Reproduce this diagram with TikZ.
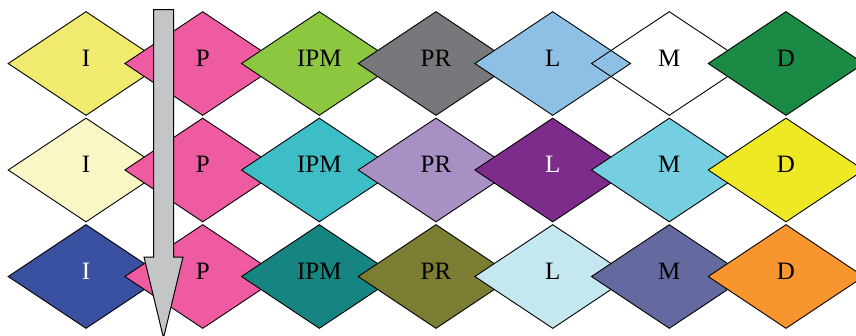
\documentclass[tikz,border=0pt]{standalone}
\usepackage{fontspec}
\setmainfont{Liberation Serif}
\usetikzlibrary{shapes.geometric,calc}
\definecolor{cYel}{HTML}{F0EA6E}
\definecolor{cPink}{HTML}{EF5BA1}
\definecolor{cGreen}{HTML}{8DC63F}
\definecolor{cGray}{HTML}{77787B}
\definecolor{cLBlue}{HTML}{8EBFE5}
\definecolor{cDGreen}{HTML}{1A8A44}
\definecolor{cPale}{HTML}{F9F7C6}
\definecolor{cTeal}{HTML}{3DBEC6}
\definecolor{cLav}{HTML}{A990C4}
\definecolor{cPurple}{HTML}{7D2C8C}
\definecolor{cCyan}{HTML}{76CFE0}
\definecolor{cYel2}{HTML}{EEE825}
\definecolor{cBlue}{HTML}{3A51A2}
\definecolor{cDTeal}{HTML}{168480}
\definecolor{cOlive}{HTML}{7B7E32}
\definecolor{cPCyan}{HTML}{C4E7F0}
\definecolor{cSlate}{HTML}{6469A0}
\definecolor{cOrange}{HTML}{F7962E}
\definecolor{cArrow}{HTML}{C4C5C7}
\tikzset{
  dia/.style={diamond, draw=black, line width=0.9pt, minimum width=156pt, minimum height=104pt,
    inner sep=0pt, shape aspect=1.5, font=\fontsize{25}{25}\selectfont,
    text height=17pt, text depth=12pt, align=center},
  bigarrow/.style={fill=cArrow, draw=black, line width=1pt, line join=miter}
}
\begin{document}
\begin{tikzpicture}[x=1pt,y=-1pt]
\useasboundingbox (0,0) rectangle (856,335);
% row 1
\node[dia, fill=cYel]   (i1) at (86,63.5) {I};
\node[dia, fill=cPink]  (p1) at (202.7,63.5) {P};
\node[dia, fill=cGreen] (ipm1) at (319.3,63.5) {IPM};
\node[dia, fill=cGray]  (pr1) at (436,63.5) {PR};
\node[dia, fill=cLBlue] (l1) at (552.7,63.5) {L};
\node[dia]              (m1) at (669.3,63.5) {M};
\node[dia, fill=cDGreen] (d1) at (786,63.5) {D};
% row 2
\node[dia, fill=cPale]   (i2) at (86,170) {I};
\node[dia, fill=cPink]   (p2) at (202.7,170) {P};
\node[dia, fill=cTeal]   (ipm2) at (319.3,170) {IPM};
\node[dia, fill=cLav]    (pr2) at (436,170) {PR};
\node[dia, fill=cPurple, text=white] (l2) at (552.7,170) {L};
\node[dia, fill=cCyan]   (m2) at (669.3,170) {M};
\node[dia, fill=cYel2]   (d2) at (786,170) {D};
% row 3
\node[dia, fill=cBlue, text=white] (i3) at (86,276.5) {I};
\node[dia, fill=cPink]   (p3) at (202.7,276.5) {P};
\node[dia, fill=cDTeal]  (ipm3) at (319.3,276.5) {IPM};
\node[dia, fill=cOlive]  (pr3) at (436,276.5) {PR};
\node[dia, fill=cPCyan]  (l3) at (552.7,276.5) {L};
\node[dia, fill=cSlate]  (m3) at (669.3,276.5) {M};
\node[dia, fill=cOrange] (d3) at (786,276.5) {D};
% arrow
\coordinate (atop) at (163.5,9.5);
\coordinate (atip) at (163.5,338);
\draw[bigarrow] ($(atop)+(-10,0)$) -- ($(atop)+(10,0)$) -- ($(atip)+(10,-81)$)
  -- ($(atip)+(19.5,-81)$) -- (atip) -- ($(atip)+(-19.5,-81)$) -- ($(atip)+(-10,-81)$) -- cycle;
\end{tikzpicture}
\end{document}
